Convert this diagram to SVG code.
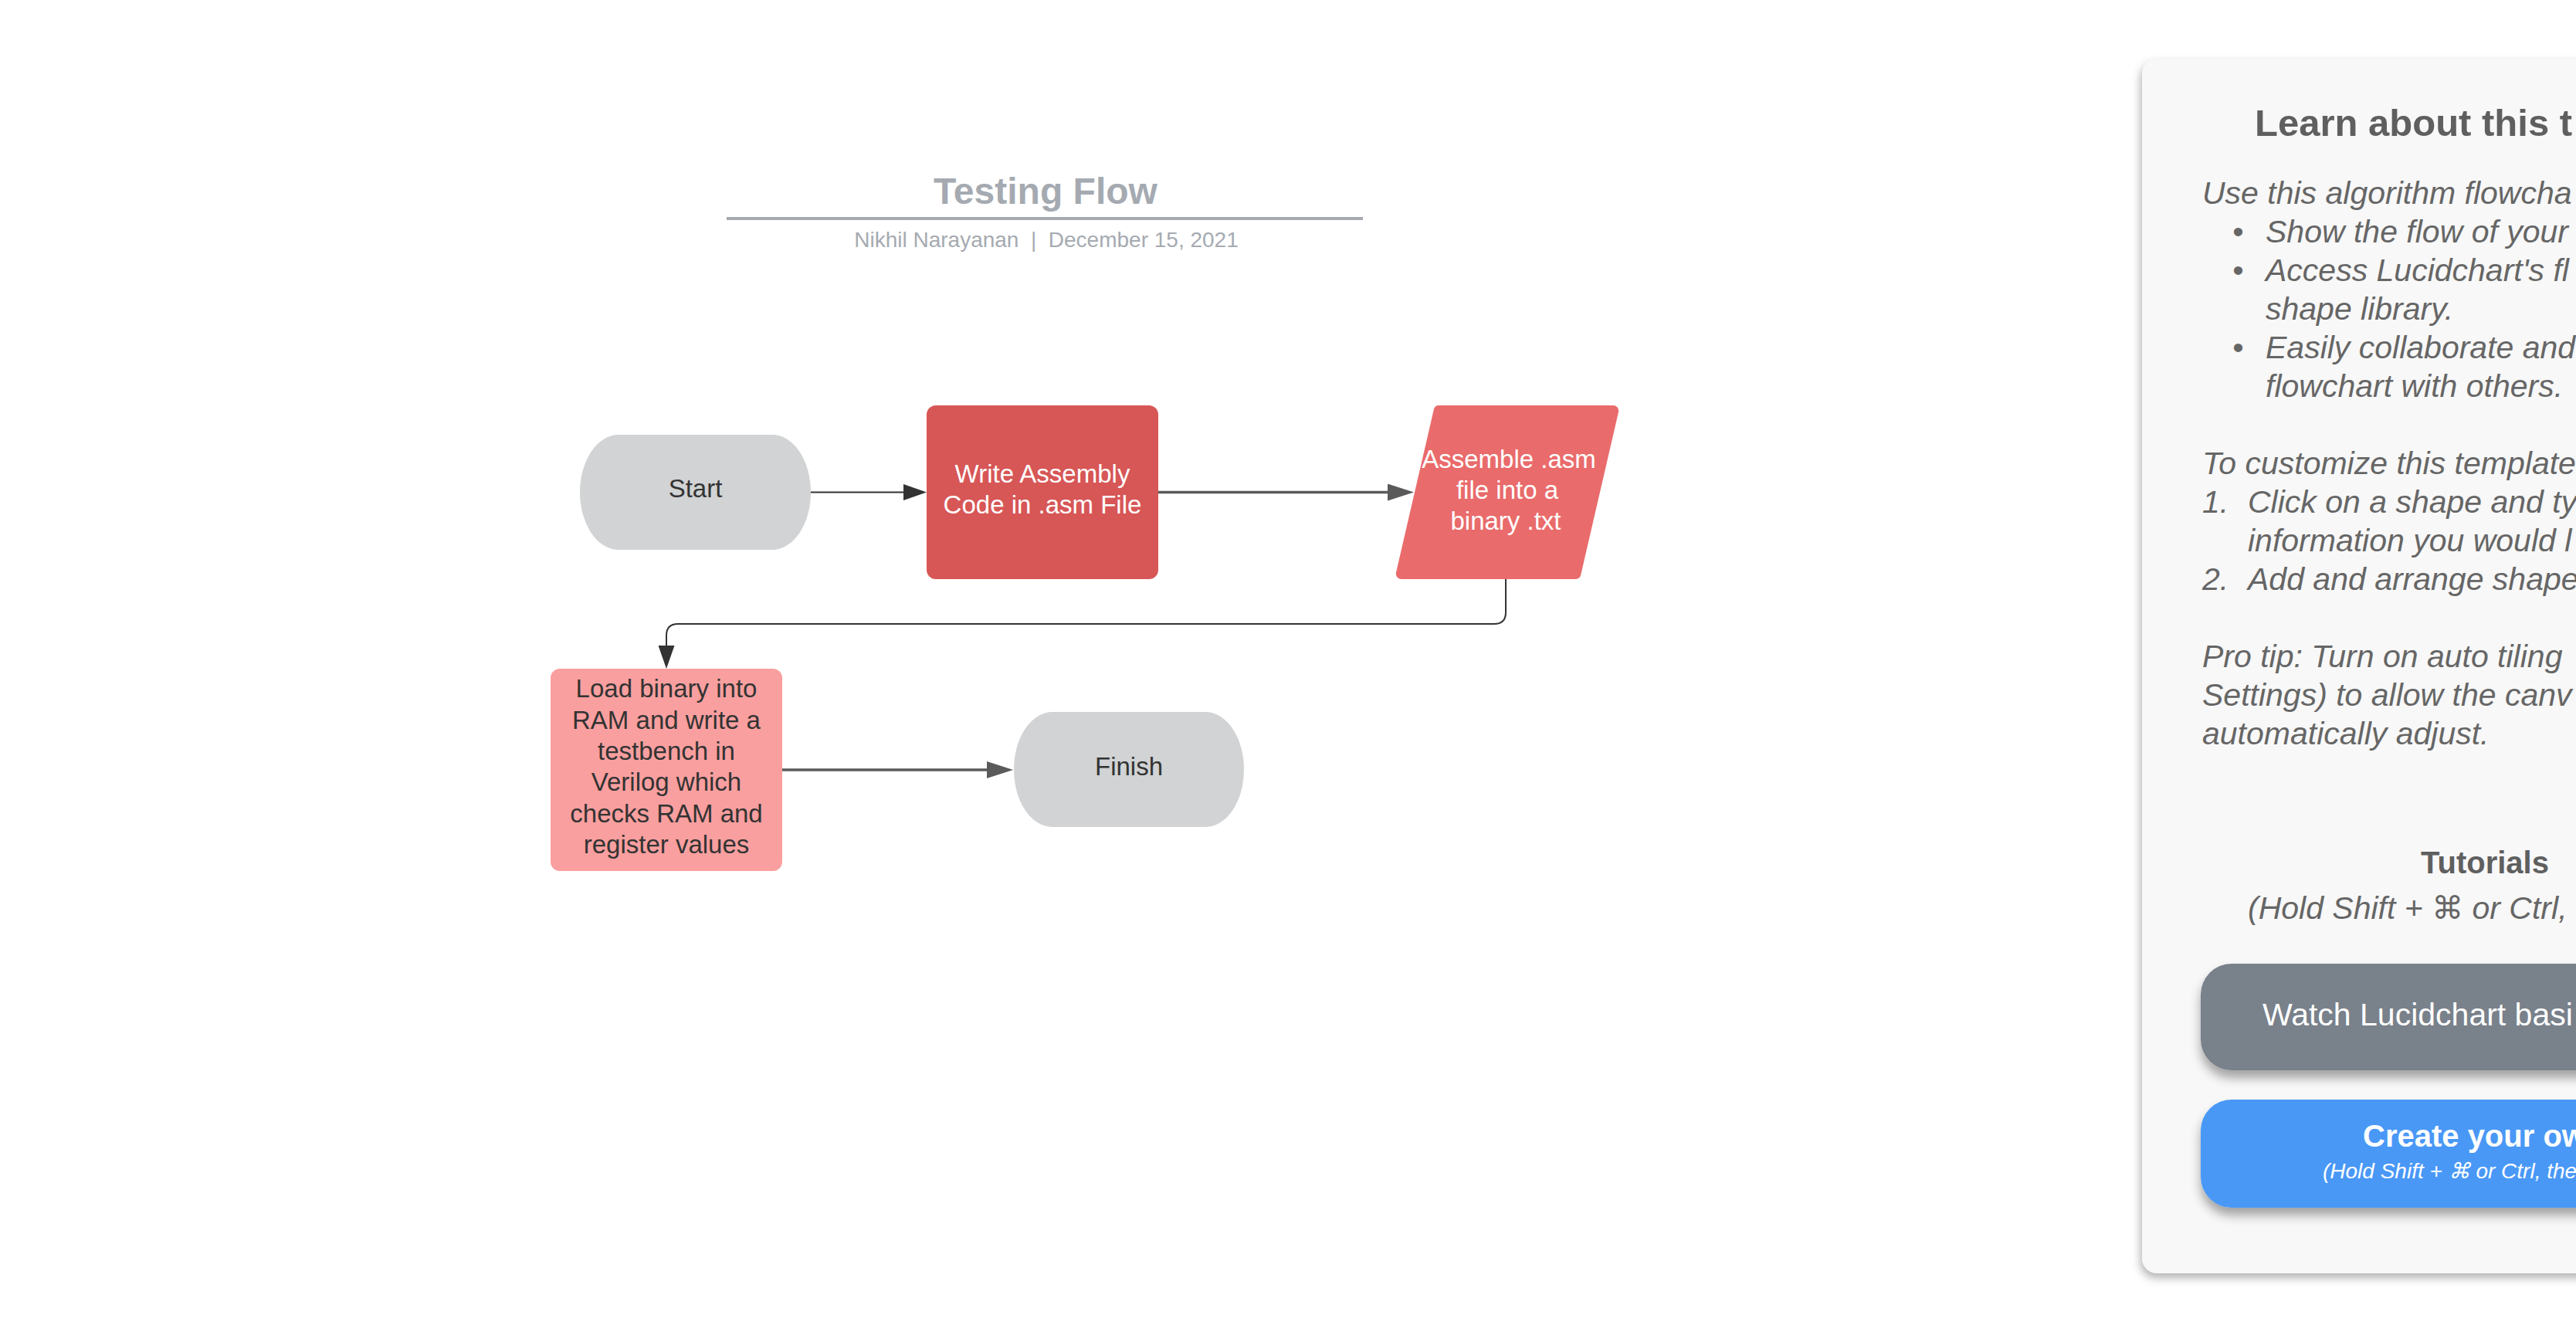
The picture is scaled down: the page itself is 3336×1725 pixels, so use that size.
<svg xmlns="http://www.w3.org/2000/svg" width="3336" height="1725" viewBox="0 0 3336 1725">
<defs>
<style>
.t{font-family:"Liberation Sans",Arial,sans-serif}
.node{font-family:"Liberation Sans",Arial,sans-serif;font-size:33px;text-anchor:middle}
.dk{fill:#333333}
.wh{fill:#ffffff}
.pt{font-family:"Liberation Sans",Arial,"DejaVu Sans",sans-serif;font-size:41px;font-style:italic;fill:#666666}
.c1{fill:none;stroke:#333333;stroke-width:2}
.c2{fill:none;stroke:#5a5a5a;stroke-width:3.5}
</style>
<marker id="ad" markerUnits="userSpaceOnUse" markerWidth="30" markerHeight="21" refX="0" refY="10.5" orient="auto"><path d="M0,0 L30,10.5 L0,21 z" fill="#333333"/></marker>
<marker id="ag" markerUnits="userSpaceOnUse" markerWidth="34" markerHeight="22" refX="0" refY="11" orient="auto"><path d="M0,0 L34,11 L0,22 z" fill="#5a5a5a"/></marker>
<filter id="ps" x="-5%" y="-5%" width="115%" height="110%"><feDropShadow dx="-2" dy="6" stdDeviation="6" flood-color="#000" flood-opacity="0.3"/></filter>
<filter id="bs" x="-5%" y="-20%" width="115%" height="160%"><feDropShadow dx="0" dy="10" stdDeviation="7" flood-color="#000" flood-opacity="0.35"/></filter>
</defs>
<rect width="3336" height="1725" fill="#ffffff"/>

<g id="header">
<text class="t" x="1354" y="264" font-size="48" font-weight="bold" fill="#a5aab1" text-anchor="middle">Testing Flow</text>
<line x1="941" y1="283" x2="1765" y2="283" stroke="#a5aab1" stroke-width="4"/>
<text class="t" x="1355" y="320" font-size="28" fill="#a5aab1" text-anchor="middle" xml:space="preserve">Nikhil Narayanan  |  December 15, 2021</text>
</g>

<g id="connectors">
<path class="c1" d="M1050,637.5 H1170" marker-end="url(#ad)"/>
<path class="c2" d="M1500,637.5 H1797" marker-end="url(#ag)"/>
<path class="c1" d="M1950,750 V793 Q1950,808 1935,808 H878 Q863,808 863,823 V836" marker-end="url(#ad)"/>
<path class="c2" d="M1013,997 H1278" marker-end="url(#ag)"/>
</g>

<g id="start">
<path d="M801,563 H1000 A50,74.5 0 0 1 1000,712 H801 A50,74.5 0 0 1 801,563 z" fill="#d1d3d4"/>
<text class="node dk" x="900.5" y="644">Start</text>
</g>

<g id="write">
<rect x="1200" y="525" width="300" height="225" rx="12" fill="#d75656"/>
<text class="node wh" x="1350" y="625">Write Assembly</text>
<text class="node wh" x="1350" y="665">Code in .asm File</text>
</g>

<g id="assemble">
<polygon points="1863.6,532 2089.2,532 2040.4,743 1814.8,743" fill="#e96b6b" stroke="#e96b6b" stroke-width="14" stroke-linejoin="round"/>
<text class="node wh" x="1954" y="606">Assemble .asm</text>
<text class="node wh" x="1952" y="646">file into a</text>
<text class="node wh" x="1950" y="686">binary .txt</text>
</g>

<g id="load">
<rect x="713" y="866" width="300" height="262" rx="12" fill="#fa9f9f"/>
<text class="node dk" x="863" y="903">Load binary into</text>
<text class="node dk" x="863" y="944">RAM and write a</text>
<text class="node dk" x="863" y="984">testbench in</text>
<text class="node dk" x="863" y="1024">Verilog which</text>
<text class="node dk" x="863" y="1065">checks RAM and</text>
<text class="node dk" x="863" y="1105">register values</text>
</g>

<g id="finish">
<path d="M1363,922 H1561 A50,74.5 0 0 1 1561,1071 H1363 A50,74.5 0 0 1 1363,922 z" fill="#d1d3d4"/>
<text class="node dk" x="1462" y="1004">Finish</text>
</g>

<g id="panel">
<rect x="2774" y="76" width="888" height="1573" rx="20" fill="#f8f8f8" filter="url(#ps)"/>
<text class="t" x="2920" y="176" font-size="49" font-weight="bold" fill="#5f5f5f">Learn about this t</text>
<text class="pt" x="2852" y="264">Use this algorithm flowcha</text>
<text class="pt" x="2891" y="314">•</text>
<text class="pt" x="2934" y="314">Show the flow of your</text>
<text class="pt" x="2891" y="364">•</text>
<text class="pt" x="2934" y="364">Access Lucidchart's fl</text>
<text class="pt" x="2934" y="414">shape library.</text>
<text class="pt" x="2891" y="464">•</text>
<text class="pt" x="2934" y="464">Easily collaborate and</text>
<text class="pt" x="2934" y="514">flowchart with others.</text>
<text class="pt" x="2852" y="614">To customize this template</text>
<text class="pt" x="2852" y="664">1.</text>
<text class="pt" x="2911" y="664">Click on a shape and ty</text>
<text class="pt" x="2911" y="714">information you would l</text>
<text class="pt" x="2852" y="764">2.</text>
<text class="pt" x="2911" y="764">Add and arrange shape</text>
<text class="pt" x="2852" y="864">Pro tip: Turn on auto tiling</text>
<text class="pt" x="2852" y="914">Settings) to allow the canv</text>
<text class="pt" x="2852" y="964">automatically adjust.</text>
<text class="t" x="3218" y="1131" font-size="40" font-weight="bold" fill="#5f5f5f" text-anchor="middle">Tutorials</text>
<text class="pt" x="2911" y="1190">(Hold Shift + ⌘ or Ctrl,</text>
</g>

<g id="watch-button">
<rect x="2850" y="1248" width="736" height="138" rx="40" fill="#79818b" filter="url(#bs)"/>
<text class="t" x="2930" y="1328" font-size="41" fill="#ffffff">Watch Lucidchart basi</text>
</g>

<g id="create-button">
<rect x="2850" y="1424" width="736" height="140" rx="40" fill="#4898f6" filter="url(#bs)"/>
<text class="t" x="3060" y="1485" font-size="40" font-weight="bold" fill="#ffffff">Create your ow</text>
<text class="t" x="3008" y="1526" font-size="28" font-style="italic" fill="#ffffff">(Hold Shift + ⌘ or Ctrl, the</text>
</g>
</svg>
